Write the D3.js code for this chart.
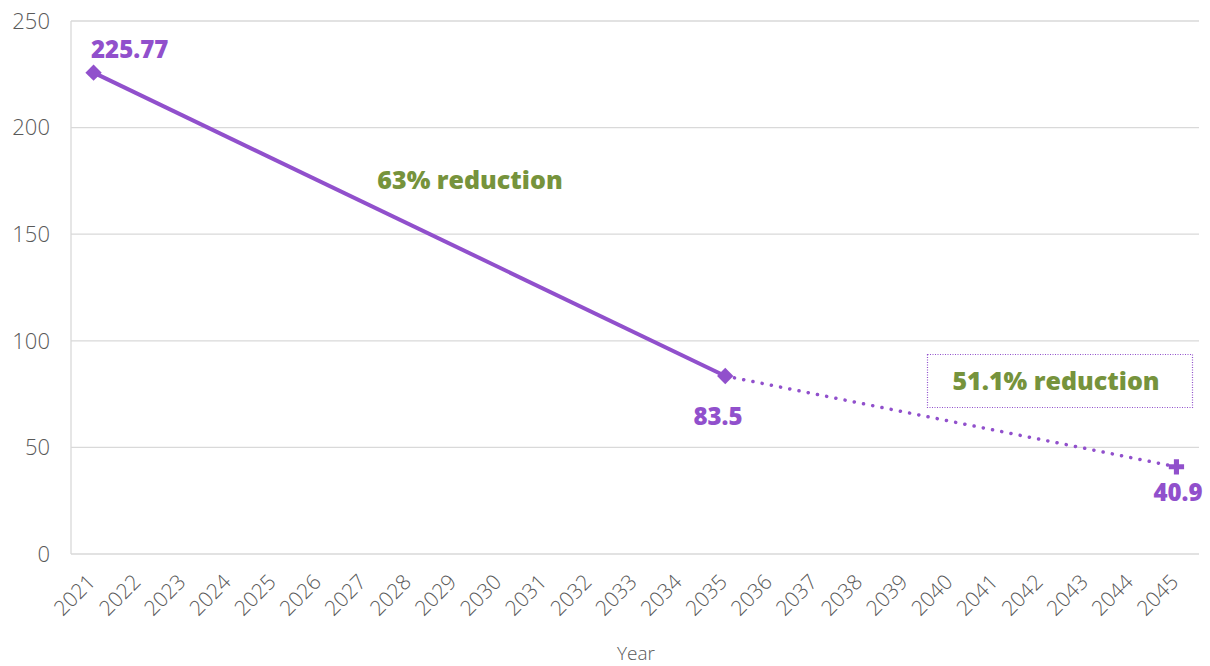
<html>
<head>
<meta charset="utf-8">
<script src="https://cdn.jsdelivr.net/npm/d3@7"></script>
<style>
  body { margin: 0; background: #fff; }
  text { font-family: "Open Sans", "Noto Sans", sans-serif; }
</style>
</head>
<body>
<div id="chart"></div>
<script>
// data
var years = d3.range(2021, 2046).map(String);
var solidYears = ["2021", "2035"];
var solidValues = [225.77, 83.5];
var dottedYears = ["2035", "2045"];
var dottedValues = [83.5, 40.9];
var yTicks = [0, 50, 100, 150, 200, 250];
var pointLabels = ["225.77", "83.5", "40.9"];
var notes = ["63% reduction", "51.1% reduction"];

var W = 1210, H = 666;
var m = {left: 71, right: 11, top: 21, bottom: 112};
var purple = "#9150cc", green = "#76933c", grid = "#d9d9d9", tickCol = "#595959";

var svg = d3.select("#chart").append("svg")
    .attr("width", W).attr("height", H);

var x = d3.scaleBand().domain(years).range([m.left, W - m.right]);
var y = d3.scaleLinear().domain([0, 250]).range([H - m.bottom, m.top]);
var cx = function(d) { return x(d) + x.bandwidth() / 2; };

// gridlines
svg.append("g").selectAll("line").data(yTicks).enter().append("line")
    .attr("x1", m.left).attr("x2", W - m.right)
    .attr("y1", function(d) { return y(d); })
    .attr("y2", function(d) { return y(d); })
    .attr("stroke", grid).attr("stroke-width", 1.3);
svg.append("line")
    .attr("x1", m.left).attr("x2", m.left)
    .attr("y1", y(0)).attr("y2", y(250))
    .attr("stroke", grid).attr("stroke-width", 1.3);

// y tick labels
svg.append("g").selectAll("text").data(yTicks).enter().append("text")
    .attr("x", 50).attr("y", function(d) { return y(d); })
    .attr("dy", "0.35em").attr("text-anchor", "end")
    .attr("font-size", 22).attr("font-weight", 300).attr("fill", tickCol)
    .text(function(d) { return d; });

// x tick labels
svg.append("g").selectAll("text").data(years).enter().append("text")
    .attr("transform", function(d) { return "translate(" + (cx(d) - 2) + "," + (y(0) + 24) + ") rotate(-45)"; })
    .attr("text-anchor", "end").attr("dy", "0.35em")
    .attr("font-size", 21).attr("font-weight", 300).attr("fill", tickCol)
    .text(function(d) { return d; });

svg.append("text").attr("x", 636).attr("y", 660)
    .attr("text-anchor", "middle").attr("font-size", 19).attr("font-weight", 300).attr("fill", tickCol)
    .text("Year");

// lines
var line = d3.line().x(function(d) { return cx(d[0]); }).y(function(d) { return y(d[1]); });
svg.append("path").datum(d3.zip(solidYears, solidValues))
    .attr("d", line).attr("fill", "none").attr("stroke", purple).attr("stroke-width", 4);
svg.append("path").datum(d3.zip(dottedYears, dottedValues))
    .attr("d", line).attr("fill", "none").attr("stroke", purple)
    .attr("stroke-width", 3.5).attr("stroke-linecap", "round").attr("stroke-dasharray", "0.1 9.3");

// markers
var markerYears = ["2021", "2035", "2045"];
var markerValues = [225.77, 83.5, 40.9];
svg.append("g").selectAll("path").data(d3.zip(markerYears, markerValues)).enter().append("path")
    .attr("d", function(d, i) { return d3.symbol().type(i === 2 ? d3.symbolCross : d3.symbolDiamond2).size(i === 2 ? 130 : 170)(); })
    .attr("transform", function(d) { return "translate(" + cx(d[0]) + "," + y(d[1]) + ")"; })
    .attr("fill", purple);

// point labels
var labelPos = [[91, 50, "start"], [718, 417, "middle"], [1178, 493, "middle"]];
svg.append("g").selectAll("text").data(pointLabels).enter().append("text")
    .attr("x", function(d, i) { return labelPos[i][0]; })
    .attr("y", function(d, i) { return labelPos[i][1]; })
    .attr("dy", "0.35em").attr("text-anchor", function(d, i) { return labelPos[i][2]; })
    .attr("font-size", 24).attr("font-weight", 800).attr("fill", purple)
    .text(function(d) { return d; });

// annotations
svg.append("text").attr("x", 470).attr("y", 180).attr("dy", "0.35em")
    .attr("text-anchor", "middle").attr("font-size", 25).attr("font-weight", 800)
    .attr("fill", green).text(notes[0]);
svg.append("rect").attr("x", 927.5).attr("y", 354.5).attr("width", 265).attr("height", 53)
    .attr("fill", "none").attr("stroke", purple).attr("stroke-width", 1.2).attr("stroke-dasharray", "1 1.5");
svg.append("text").attr("x", 1056).attr("y", 381).attr("dy", "0.35em")
    .attr("text-anchor", "middle").attr("font-size", 25).attr("font-weight", 800)
    .attr("fill", green).text(notes[1]);
</script>
</body>
</html>
